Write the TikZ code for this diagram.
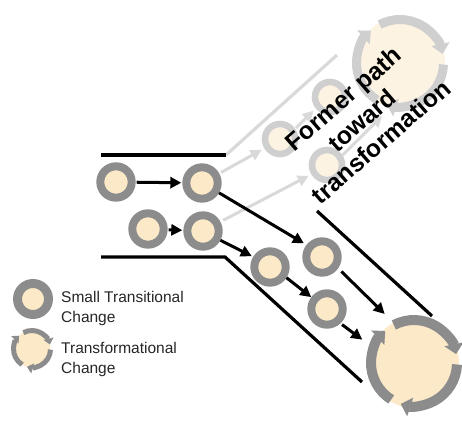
\documentclass[tikz,border=0pt]{standalone}
\usepackage{fontspec}
\setmainfont{Liberation Sans}
\usetikzlibrary{arrows.meta}
\definecolor{ringgray}{HTML}{8C8C8C}
\definecolor{cream}{HTML}{FCE9C8}
\definecolor{fadering}{HTML}{CFCFCF}
\definecolor{fadecream}{HTML}{FDF3E2}
\definecolor{fadeline}{HTML}{D9D9D9}
\definecolor{legtext}{HTML}{262626}
\begin{document}
\begin{tikzpicture}[x=1pt,y=1pt,
  smallc/.style={circle, minimum size=31.4pt, inner sep=0pt, fill=cream, draw=ringgray, line width=8pt},
  fadec/.style={circle, minimum size=30pt, inner sep=0pt, fill=fadecream, draw=fadering, line width=6.6pt},
  bigc/.style={circle, minimum size=96pt, inner sep=0pt, outer sep=0pt},
  bound/.style={line width=3.2pt, black},
  fbound/.style={line width=3.2pt, fadeline},
  arr/.style={line width=3pt, black, -{Triangle[length=11pt,width=11pt]}},
  farr/.style={line width=3pt, fadeline, -{Triangle[length=11pt,width=11pt]}},
  bigring/.style={line width=10pt, ringgray, -{Triangle[length=10pt,width=19pt]}},
  fbigring/.style={line width=9pt, fadering, -{Triangle[length=10pt,width=18pt]}},
  legring/.style={line width=5pt, ringgray, -{Triangle[length=6pt,width=10pt]}},
  legtxt/.style={anchor=west, inner sep=0pt, align=left, text=legtext, font=\fontsize{15.5}{20}\selectfont}
]
\useasboundingbox (0,0) rectangle (462,426);

% boundary lines
\coordinate (tl1) at (101,271);
\coordinate (tl2) at (226,271);
\coordinate (tl3) at (337,371);
\coordinate (bl1) at (101,169);
\coordinate (bl2) at (225,169);
\coordinate (bl3) at (362,44);
\coordinate (ml1) at (317,215);
\coordinate (ml2) at (432,110);
\draw[fbound] (tl2) -- (tl3);
\draw[bound] (tl1) -- (tl2);
\draw[bound] (bl1) -- (bl2) -- (bl3);
\draw[bound] (ml1) -- (ml2);

% faded former path
\node[bigc] (fbig) at (400,363) {};
\fill[fadecream] (fbig.center) circle (45);
\foreach \s in {118,-2,-122}
  \draw[fbigring] ([shift={(\s:43.5)}]fbig.center) arc[start angle=\s, end angle=\s-106, radius=43.5];
\node[fadec] (fA) at (280,287) {};
\node[fadec] (fB) at (330,329) {};
\node[fadec] (fC) at (327,261) {};

% small transitional changes
\node[smallc] (c1) at (116,244) {};
\node[smallc] (c2) at (202,243) {};
\node[smallc] (c3) at (148,197) {};
\node[smallc] (c4) at (203,195) {};
\node[smallc] (c5) at (270,159) {};
\node[smallc] (c6) at (322,169) {};
\node[smallc] (c7) at (327,117) {};

% big transformational change
\node[bigc] (big) at (414,63) {};
\fill[cream] (big.center) circle (45);
\foreach \s in {118,-2,-122}
  \draw[bigring] ([shift={(\s:43)}]big.center) arc[start angle=\s, end angle=\s-106, radius=43];

% faded arrows
\draw[farr, shorten <=2pt, shorten >=3pt] (c2.29) -- (fA.211);
\draw[farr, shorten <=1pt, shorten >=3pt] (fA.34) -- (fB.219);
\draw[farr, shorten <=3pt, shorten >=3pt] (c4.28) -- (fC.211);
\draw[farr, shorten >=9pt] (fC.32) -- (fbig.256);

% black arrows
\draw[arr, shorten <=1pt, shorten >=1pt] (c1) -- (c2);
\draw[arr, shorten <=1pt, shorten >=1pt] (c3) -- (c4);
\draw[arr, shorten >=3pt] (c2.-30) -- (c6.142);
\draw[arr, shorten >=1.5pt] (c4.-28) -- (c5.149);
\draw[arr] (c5.-33) -- (c7.143);
\draw[arr, shorten <=4.5pt, shorten >=9.5pt] (c6.-35) -- (big.118);
\draw[arr, shorten <=2pt, shorten >=9pt] (c7.-47) -- (big.158);

% rotated label
\node[rotate=41, align=center, inner sep=0pt, font=\fontsize{24.7}{28.7}\selectfont\bfseries] (lbl) at (362,306) {Former path\\toward\\transformation};

% legend
\node[circle, minimum size=31pt, inner sep=0pt, fill=cream, draw=ringgray, line width=9pt] (ls) at (33,127) {};
\node[legtxt] (lst) at (61,118) {Small Transitional\\Change};
\node[bigc, minimum size=42pt] (lt) at (32,77) {};
\fill[cream] (lt.center) circle (18.5);
\foreach \s in {118,-2,-122}
  \draw[legring] ([shift={(\s:18.5)}]lt.center) arc[start angle=\s, end angle=\s-104, radius=18.5];
\node[legtxt] (ltt) at (61,66.5) {Transformational\\Change};
\end{tikzpicture}
\end{document}
